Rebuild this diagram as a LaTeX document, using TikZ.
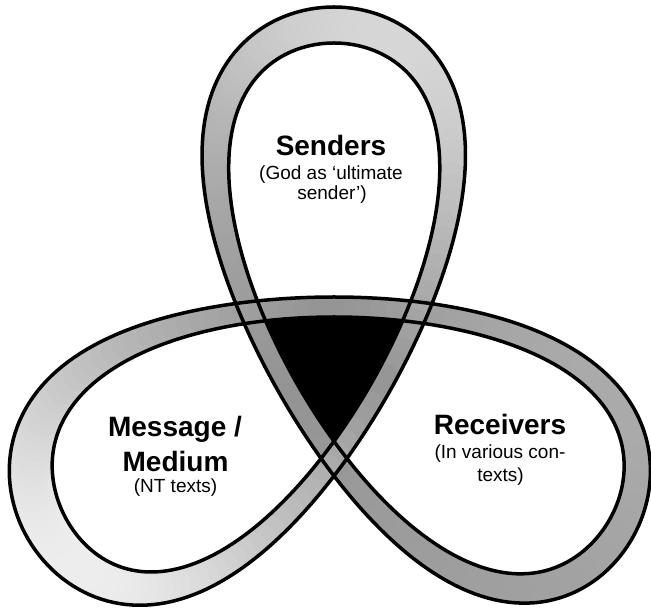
\documentclass[tikz,border=0pt]{standalone}
\usepackage{fontspec}
\setmainfont{Liberation Sans}
\begin{document}
\begin{tikzpicture}[x=1pt,y=1pt,
  declare function={
    xf(\q)=sin(\q)+1.463*sin(2*\q)+0.08*sin(4*\q);
    yf(\q)=-cos(\q)+1.463*cos(2*\q)-0.08*cos(4*\q);
    xd(\q)=0.986*(cos(\q)+2.926*cos(2*\q)+0.32*cos(4*\q));
    yd(\q)=sin(\q)-2.926*sin(2*\q)+0.32*sin(4*\q);
    dw(\q)=14-4*cos(3*\q)-0.4*xf(\q)*xf(\q)*xf(\q);
    PX(\q,\p)=334+139*xf(\q)-(\p)*dw(\q)*yd(\q)/veclen(xd(\q),yd(\q));
    PY(\q,\p)=249+141*yf(\q)+(\p)*dw(\q)*xd(\q)/veclen(xd(\q),yd(\q));
    gv(\q)=0.58+sqrt((1-cos(3*\q))/2)*(0.22+0.16*cos(\q-262));
  },
  outline/.style={line width=3.5pt, line join=round, draw=black},
  titletext/.style={font=\fontsize{28}{30}\selectfont\bfseries, anchor=base, inner sep=0pt},
  subtext/.style={font=\fontsize{19}{21}\selectfont, anchor=base, inner sep=0pt}
]
\fill[white] (0,0) rectangle (651,610);
\useasboundingbox (0,0) rectangle (651,610);

% black centre triangle
\fill[black] plot[variable=\t,domain=-8.2:8.2,samples=12] ({334+139*xf(\t)},{249+141*yf(\t)})
  -- plot[variable=\t,domain=231.8:248.2,samples=12] ({334+139*xf(\t)},{249+141*yf(\t)})
  -- plot[variable=\t,domain=111.8:128.2,samples=12] ({334+139*xf(\t)},{249+141*yf(\t)}) -- cycle;

% grey band
\foreach \i in {0,...,239}{
  \pgfmathsetmacro\tA{1.5*\i}
  \pgfmathsetmacro\tB{1.5*\i+1.5}
  \pgfmathsetmacro\tM{1.5*\i+0.75}
  \pgfmathsetmacro\gval{gv(\tM)}
  \pgfmathsetmacro\wval{2*dw(\tM)}
  \definecolor{bandc}{gray}{\gval}
  \draw[bandc, line width=\wval pt, line cap=round]
    ({334+139*xf(\tA)},{249+141*yf(\tA)}) -- ({334+139*xf(\tB)},{249+141*yf(\tB)});
}

% outlines
\draw[outline] plot[variable=\t,domain=0:360,samples=361] ({PX(\t,1)},{PY(\t,1)}) -- cycle;
\draw[outline] plot[variable=\t,domain=0:360,samples=361] ({PX(\t,-1)},{PY(\t,-1)}) -- cycle;

% texts
\node[titletext] (s1) at (331,454) {Senders};
\node[subtext] (s2) at (331,430) {(God as ‘ultimate};
\node[subtext] (s3) at (332,410) {sender’)};
\node[titletext] (m1) at (175,173) {Message /};
\node[titletext] (m2) at (175.5,138) {Medium};
\node[subtext] (m3) at (175.5,117) {(NT texts)};
\node[titletext] (r1) at (500,175) {Receivers};
\node[subtext] (r2) at (500,151) {(In various con-};
\node[subtext] (r3) at (500.5,128) {texts)};
\end{tikzpicture}
\end{document}
